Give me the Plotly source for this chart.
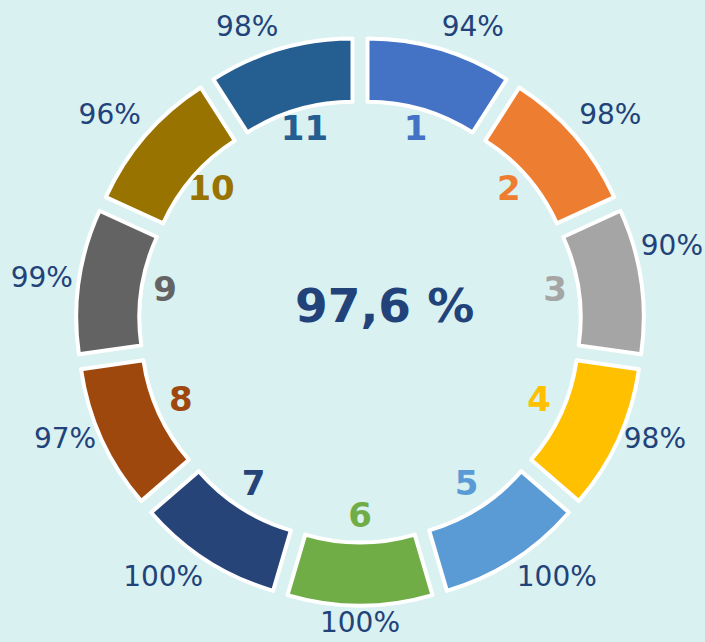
import math
import plotly.graph_objects as go

# ---- data ----
segments = ["1", "2", "3", "4", "5", "6", "7", "8", "9", "10", "11"]
values = [94, 98, 90, 98, 100, 100, 100, 97, 99, 96, 98]
colors = ["#4472C4", "#ED7D31", "#A5A5A5", "#FFC000", "#5B9BD5", "#70AD47",
          "#264478", "#9E480E", "#636363", "#997300", "#255E91"]
overall = "97,6 %"

# ---- layout constants ----
W, H = 705, 642
cx, cy = 360, 321.5          # donut centre (px from left / top)
R_OUT = 284                  # outer extent incl. pull
PULL = 0.1033
HOLE = 0.755
R_POLAR = 321
R_NUM = 197
R_PCT = 290
PCT_SIZE = 28
EDGE_PAD = 2
DARK = "#22427A"
BG = "#D9F1F0"

n = len(segments)
step = 360 / n
theta = [(i + 0.5) * step for i in range(n)]
pct_text = [f"{v}%" for v in values]


def text_width(t, size):
    # approximate advance widths of DejaVu Sans
    return size * sum(0.95 if ch == "%" else 0.636 for ch in t)


def fit_angle(angle_deg, t):
    """Keep an outside label inside the canvas horizontally."""
    w = text_width(t, PCT_SIZE)
    s = math.sin(math.radians(angle_deg))
    if s > 0:
        limit = (W - EDGE_PAD - w - cx) / R_PCT
        if s > limit:
            a = math.degrees(math.asin(limit))
            return a if angle_deg <= 90 else 180 - a
    elif s < 0:
        limit = (cx - EDGE_PAD - w) / R_PCT
        if -s > limit:
            a = math.degrees(math.asin(limit))
            return 360 - a if angle_deg >= 270 else 180 + a
    return angle_deg


def outside_position(angle_deg):
    s = math.sin(math.radians(angle_deg))
    c = math.cos(math.radians(angle_deg))
    v = "top" if c > 0.5 else ("bottom" if c < -0.5 else "middle")
    h = "right" if s > 0.25 else ("left" if s < -0.25 else "center")
    return f"{v} {h}"


pct_theta = [fit_angle(a, t) for a, t in zip(theta, pct_text)]

fig = go.Figure()

fig.add_trace(go.Pie(
    values=[1] * n,
    labels=segments,
    sort=False,
    direction="clockwise",
    rotation=0,
    pull=PULL,
    hole=HOLE,
    marker=dict(colors=colors, line=dict(color="white", width=4)),
    textinfo="none",
    hoverinfo="skip",
    showlegend=False,
    domain=dict(x=[(cx - R_OUT) / W, (cx + R_OUT) / W],
                y=[(H - cy - R_OUT) / H, (H - cy + R_OUT) / H]),
))

fig.add_trace(go.Scatterpolar(
    r=[R_NUM] * n, theta=theta, mode="text", text=segments,
    textfont=dict(color=colors, size=34, family="DejaVu Sans", weight="bold"),
    cliponaxis=False, showlegend=False, hoverinfo="skip",
))

fig.add_trace(go.Scatterpolar(
    r=[R_PCT] * n, theta=pct_theta, mode="text",
    text=pct_text,
    textposition=[outside_position(t) for t in pct_theta],
    textfont=dict(color=DARK, size=PCT_SIZE, family="DejaVu Sans"),
    cliponaxis=False, showlegend=False, hoverinfo="skip",
))

fig.add_annotation(
    text=overall, x=384 / W, y=(H - 305) / H, xref="paper", yref="paper",
    xanchor="center", yanchor="middle", showarrow=False,
    font=dict(family="DejaVu Sans", size=47, color=DARK, weight="bold"),
)

fig.update_layout(
    width=W, height=H,
    margin=dict(l=0, r=0, t=0, b=0),
    paper_bgcolor=BG, plot_bgcolor=BG,
    polar=dict(
        domain=dict(x=[(cx - R_POLAR) / W, (cx + R_POLAR) / W], y=[0, 1]),
        bgcolor="rgba(0,0,0,0)",
        radialaxis=dict(range=[0, R_POLAR], visible=False),
        angularaxis=dict(visible=False, rotation=90, direction="clockwise"),
    ),
)

fig.write_html("out.html", config={"displayModeBar": False},
               post_script="document.body.style.margin='0';document.body.style.overflow='hidden';")
